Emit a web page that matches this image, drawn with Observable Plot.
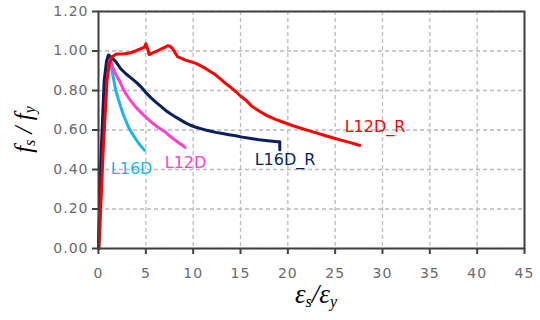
<!DOCTYPE html>
<html><head><meta charset="utf-8">
<script src="https://cdn.jsdelivr.net/npm/d3@7"></script>
<script src="https://cdn.jsdelivr.net/npm/@observablehq/plot@0.6"></script>
<style>body{margin:0;background:#fff}#chart{width:540px;height:320px}</style>
</head><body><div id="chart"></div>
<script>
// L16D (cyan)
const l16dX = [0, 0.3, 0.7, 1.0, 1.2, 1.48, 1.83, 2.1, 2.36, 2.6, 2.88, 3.2, 3.59, 3.95, 4.29, 4.6, 4.85];
const l16dY = [0, 0.45, 0.85, 0.94, 0.963, 0.886, 0.80, 0.755, 0.716, 0.68, 0.648, 0.612, 0.58, 0.553, 0.529, 0.512, 0.498];
// L12D (pink)
const l12dX = [0, 0.3, 0.7, 1.0, 1.25, 1.48, 1.8, 2.18, 2.5, 2.88, 3.4, 3.94, 4.5, 5.0, 5.5, 6.05, 6.6, 7.1, 7.6, 8.17, 8.7, 9.15];
const l12dY = [0, 0.45, 0.85, 0.93, 0.955, 0.92, 0.885, 0.852, 0.818, 0.784, 0.748, 0.716, 0.688, 0.665, 0.643, 0.622, 0.604, 0.588, 0.567, 0.546, 0.528, 0.512];
// L16D_R (navy)
const l16drX = [0, 0.25, 0.6, 0.85, 1.05, 1.4, 1.83, 2.35, 2.88, 3.4, 3.94, 4.47, 5.0, 5.5, 6.05, 6.6, 7.1, 7.6, 8.17, 8.7, 9.2, 9.7, 10.3, 10.8, 11.3, 11.9, 12.4, 13.1, 13.8, 14.5, 15.2, 16.1, 16.97, 17.9, 18.9, 19.15, 19.15];
const l16drY = [0, 0.45, 0.85, 0.95, 0.98, 0.965, 0.946, 0.91, 0.885, 0.865, 0.844, 0.82, 0.79, 0.765, 0.741, 0.72, 0.699, 0.682, 0.665, 0.65, 0.636, 0.624, 0.614, 0.607, 0.6, 0.594, 0.588, 0.582, 0.576, 0.571, 0.564, 0.557, 0.551, 0.546, 0.541, 0.54, 0.5];
// L12D_R (red)
const l12drX = [0.05, 0.5, 0.9, 1.15, 1.4, 1.9, 2.6, 3.3, 3.9, 4.3, 4.6, 4.85, 5.0, 5.2, 5.35, 5.7, 6.05, 6.4, 6.76, 7.0, 7.3, 7.55, 7.8, 8.05, 8.34, 8.8, 9.2, 9.8, 10.3, 10.8, 11.3, 11.8, 12.4, 12.9, 13.45, 14.0, 14.5, 15.0, 15.6, 16.2, 17.0, 17.8, 18.7, 19.6, 20.5, 21.3, 22.2, 23.1, 24.0, 24.9, 25.8, 26.6, 27.2, 27.6];
const l12drY = [0, 0.5, 0.85, 0.935, 0.97, 0.985, 0.985, 0.99, 1.0, 1.008, 1.014, 1.02, 1.036, 1.01, 0.982, 0.99, 0.997, 1.005, 1.014, 1.018, 1.027, 1.024, 1.014, 0.995, 0.972, 0.962, 0.954, 0.945, 0.937, 0.925, 0.912, 0.896, 0.878, 0.858, 0.835, 0.815, 0.795, 0.772, 0.75, 0.72, 0.695, 0.673, 0.654, 0.638, 0.622, 0.61, 0.597, 0.584, 0.571, 0.558, 0.546, 0.536, 0.528, 0.522];

const seriesNames = ["L16D", "L12D", "L16D_R", "L12D_R"];
const seriesColors = ["#1db4ee", "#ff40d0", "#0a1f5e", "#ff0000"];
const labelX = [1.3, 7.0, 16.5, 26.0];
const labelY = [0.405, 0.434, 0.449, 0.616];
const xTicks = [0, 5, 10, 15, 20, 25, 30, 35, 40, 45];
const yTicks = [0, 0.2, 0.4, 0.6, 0.8, 1.0, 1.2];

const seriesXs = [l16dX, l12dX, l16drX, l12drX];
const seriesYs = [l16dY, l12dY, l16drY, l12drY];

const lineMarks = seriesNames.map((name, s) =>
  Plot.line(seriesXs[s].map((x, i) => ({x, y: seriesYs[s][i]})), {
    x: "x", y: "y", stroke: seriesColors[s], strokeWidth: 3, strokeLinejoin: "round"
  }));
const labelMarks = seriesNames.map((name, s) =>
  Plot.text([name], {
    x: () => labelX[s], y: () => labelY[s], text: d => d, fill: seriesColors[s],
    textAnchor: "start", fontSize: 16, fontFamily: "DejaVu Sans"
  }));

const plot = Plot.plot({
  width: 540, height: 320,
  marginLeft: 98, marginRight: 16, marginTop: 11, marginBottom: 72,
  style: {fontFamily: "DejaVu Sans", fontSize: "14px", background: "#fff"},
  x: {domain: [0, 45]},
  y: {domain: [0, 1.2]},
  marks: [
    Plot.gridX(xTicks, {stroke: "#bbbbbb", strokeOpacity: 1, strokeWidth: 1.3, strokeDasharray: "4,3"}),
    Plot.gridY(yTicks, {stroke: "#bbbbbb", strokeOpacity: 1, strokeWidth: 1.3, strokeDasharray: "4,3"}),
    ...lineMarks,
    ...labelMarks,
    Plot.frame({stroke: "#404040", strokeWidth: 2}),
    Plot.axisX(xTicks, {tickSize: 6, tickPadding: 14, tickFormat: d => String(d), label: null,
      color: "#6a6a6a", stroke: "#404040", strokeWidth: 2}),
    Plot.axisY(yTicks, {tickSize: 6, tickPadding: 4, tickFormat: d => d.toFixed(2), label: null,
      color: "#6a6a6a", stroke: "#404040", strokeWidth: 2})
  ]
});
document.getElementById("chart").appendChild(plot);

const svg = d3.select(plot);
svg.selectAll('g[aria-label="x-axis tick label"] text, g[aria-label="y-axis tick label"] text')
  .attr("letter-spacing", "1px");

const xs = plot.scale("x"), ys = plot.scale("y");
// x-axis title: εs/εy
const xt = svg.append("text")
  .attr("x", xs.apply(22.5) + 5).attr("y", 303)
  .attr("text-anchor", "middle")
  .attr("font-family", "Liberation Serif").attr("font-style", "italic")
  .attr("font-size", 27).attr("fill", "#000");
xt.append("tspan").text("ε");
xt.append("tspan").attr("font-size", 16).attr("dy", 4).text("s");
xt.append("tspan").attr("dy", -4).text("/");
xt.append("tspan").text("ε");
xt.append("tspan").attr("font-size", 16).attr("dy", 4).text("y");
// y-axis title: fs / fy
const ymid = (ys.apply(0) + ys.apply(1.2)) / 2;
const yt = svg.append("text")
  .attr("transform", `translate(32,${ymid}) rotate(-90)`)
  .attr("text-anchor", "middle")
  .attr("font-family", "Liberation Serif").attr("font-style", "italic")
  .attr("font-size", 25).attr("fill", "#000");
yt.append("tspan").text("f");
yt.append("tspan").attr("font-size", 16).attr("dy", 3).text("s");
yt.append("tspan").attr("dy", -3).text(" / ");
yt.append("tspan").text("f");
yt.append("tspan").attr("font-size", 16).attr("dy", 3).text("y");
</script>
</body></html>
